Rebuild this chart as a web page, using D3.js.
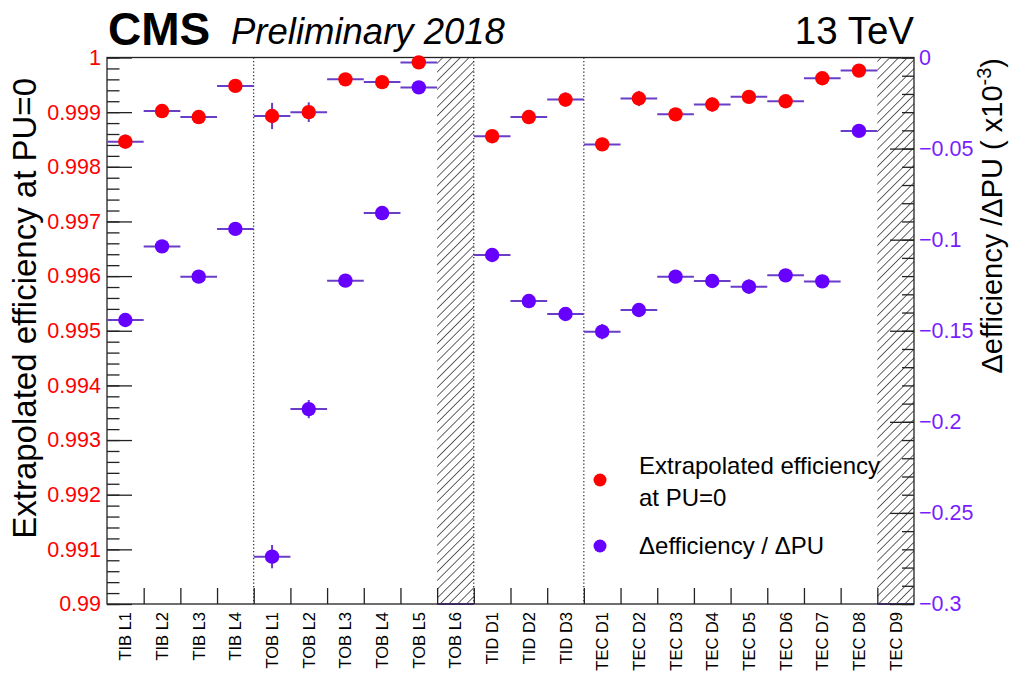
<!DOCTYPE html>
<html>
<head>
<meta charset="utf-8">
<script src="https://cdn.jsdelivr.net/npm/d3@7"></script>
<style>
  html, body { margin: 0; padding: 0; background: #fff; }
  svg { display: block; font-family: "Liberation Sans", Arial, Helvetica, sans-serif; }
</style>
</head>
<body>
<svg id="chart" width="1011" height="673"></svg>
<script>
// Tracker layers / disks
const categories = ["TIB L1","TIB L2","TIB L3","TIB L4",
  "TOB L1","TOB L2","TOB L3","TOB L4","TOB L5","TOB L6",
  "TID D1","TID D2","TID D3",
  "TEC D1","TEC D2","TEC D3","TEC D4","TEC D5","TEC D6","TEC D7","TEC D8","TEC D9"];

// Extrapolated hit efficiency at PU=0 (left axis)
const effPU0 = [0.99846, 0.99902, 0.99891, 0.99948,
  0.99893, 0.99900, 0.99960, 0.99955, 0.99991, null,
  0.99856, 0.99891, 0.99923,
  0.99841, 0.99925, 0.99896, 0.99914, 0.99928, 0.99920, 0.99962, 0.99976, null];
const effPU0Err = [0.00013, 0.00008, 0.00006, 0.00006,
  0.00024, 0.00018, 0.00008, 0.00006, 0.00006, null,
  0.00005, 0.00011, 0.00013,
  0.00012, 0.00014, 0.00006, 0.00013, 0.00006, 0.00006, 0.00006, 0.00006, null];

// Slope of efficiency vs pile-up, in units of 1e-3 (right axis)
const slope = [-0.1441, -0.1037, -0.1203, -0.0941,
  -0.2740, -0.1930, -0.1225, -0.0854, -0.0164, null,
  -0.1084, -0.1337, -0.1408,
  -0.1505, -0.1386, -0.1203, -0.1227, -0.1258, -0.1196, -0.1229, -0.0403, null];
const slopeErr = [0.003, 0.003, 0.003, 0.003,
  0.0064, 0.005, 0.003, 0.003, 0.003, null,
  0.003, 0.003, 0.003,
  0.0042, 0.003, 0.003, 0.003, 0.004, 0.003, 0.003, 0.003, null];

// Group boundaries (bin index) marked with dotted lines
const groupEdges = [4, 10, 13];

const leftTicks = [0.99, 0.991, 0.992, 0.993, 0.994, 0.995, 0.996, 0.997, 0.998, 0.999, 1];
const rightTicks = [-0.3, -0.25, -0.2, -0.15, -0.1, -0.05, 0];

const RED = "#ff0000", PURPLE = "#6600ff", BAR = "#6a3dc8", AXPURPLE = "#7a1cff";

const svg = d3.select("#chart");
const L = 107, R = 914, T = 57.5, B = 604;

const x = d3.scaleBand().domain(categories).range([L, R]).paddingInner(0).paddingOuter(0);
const xi = d3.scaleLinear().domain([0, categories.length]).range([L, R]);
const yL = d3.scaleLinear().domain([0.99, 1]).range([B, T]);
const yR = d3.scaleLinear().domain([-0.3, 0]).range([B, T]);

// hatch pattern for bins without measurement
const defs = svg.append("defs");
const pat = defs.append("pattern").attr("id", "hatch")
  .attr("patternUnits", "userSpaceOnUse").attr("width", 6.2).attr("height", 6.2)
  .attr("patternTransform", "rotate(45)");
pat.append("line").attr("x1", 0).attr("y1", 0).attr("x2", 0).attr("y2", 6.2)
  .attr("stroke", "#111").attr("stroke-width", 1.3);

const emptyBins = categories.filter((c, i) => effPU0[i] === null);
svg.append("g").selectAll("rect").data(emptyBins).join("rect")
  .attr("x", d => x(d)).attr("y", T).attr("width", x.bandwidth()).attr("height", B - T)
  .attr("fill", "url(#hatch)");
svg.append("g").selectAll("line").data(emptyBins).join("line")
  .attr("x1", d => x(d)).attr("x2", d => x(d) + x.bandwidth())
  .attr("y1", yR(-0.3)).attr("y2", yR(-0.3))
  .attr("stroke", BAR).attr("stroke-width", 2);

// dotted separators between sub-detectors
svg.append("g").selectAll("line").data(groupEdges).join("line")
  .attr("x1", d => xi(d)).attr("x2", d => xi(d)).attr("y1", T).attr("y2", B)
  .attr("stroke", "#000").attr("stroke-width", 1).attr("stroke-dasharray", "1.3,2.2");

// frame
svg.append("rect").attr("x", L).attr("y", T).attr("width", R - L).attr("height", B - T)
  .attr("fill", "none").attr("stroke", "#222").attr("stroke-width", 1.3);

// left axis (efficiency)
const minorL = d3.range(0, 51).map(i => 0.99 + i * 0.0002);
const gLm = svg.append("g").attr("transform", `translate(${L},0)`)
  .call(d3.axisLeft(yL).tickValues(minorL).tickSize(-12.5).tickFormat(""));
const gL = svg.append("g").attr("transform", `translate(${L},0)`)
  .call(d3.axisLeft(yL).tickValues(leftTicks).tickSize(-25).tickPadding(6)
    .tickFormat(d => d === 1 ? "1" : d3.format(".3~f")(d)));
[gLm, gL].forEach(g => { g.select(".domain").remove(); g.selectAll(".tick line").attr("stroke", "#222").attr("stroke-width", 1.3); });
gL.selectAll("text").attr("fill", RED).attr("font-size", 21.5).attr("font-family", "Liberation Sans, Arial, sans-serif");

// right axis (slope)
const minorR = d3.range(0, 31).map(i => -0.3 + i * 0.01);
const gRm = svg.append("g").attr("transform", `translate(${R},0)`)
  .call(d3.axisRight(yR).tickValues(minorR).tickSize(-12).tickFormat(""));
const gR = svg.append("g").attr("transform", `translate(${R},0)`)
  .call(d3.axisRight(yR).tickValues(rightTicks).tickSize(-24).tickPadding(5)
    .tickFormat(d => d === 0 ? "0" : d3.format(".2~f")(d)));
[gRm, gR].forEach(g => { g.select(".domain").remove(); g.selectAll(".tick line").attr("stroke", "#222").attr("stroke-width", 1.3); });
gR.selectAll("text").attr("fill", AXPURPLE).attr("font-size", 21.5).attr("font-family", "Liberation Sans, Arial, sans-serif");

// bottom axis: ticks on bin edges, labels at bin centres
const gB = svg.append("g").attr("transform", `translate(0,${B})`)
  .call(d3.axisBottom(xi).tickValues(d3.range(1, categories.length)).tickSize(-16).tickFormat(""));
gB.select(".domain").remove();
gB.selectAll(".tick line").attr("stroke", "#222").attr("stroke-width", 1.3);

svg.append("g").selectAll("text").data(categories).join("text")
  .attr("transform", d => `translate(${x(d) + x.bandwidth() / 2 + 6},${B + 8}) rotate(-90)`)
  .attr("text-anchor", "end").attr("font-size", 16.5).attr("fill", "#000")
  .text(d => d);

// series drawing: horizontal bin-width bar, vertical error bar, marker
function drawSeries(vals, errs, y, color) {
  const pts = categories.map((c, i) => ({ c, v: vals[i], e: errs[i] })).filter(d => d.v !== null);
  const g = svg.append("g");
  g.selectAll("line.h").data(pts).join("line").attr("class", "h")
    .attr("x1", d => x(d.c)).attr("x2", d => x(d.c) + x.bandwidth())
    .attr("y1", d => y(d.v)).attr("y2", d => y(d.v))
    .attr("stroke", BAR).attr("stroke-width", 2);
  g.selectAll("line.v").data(pts).join("line").attr("class", "v")
    .attr("x1", d => x(d.c) + x.bandwidth() / 2).attr("x2", d => x(d.c) + x.bandwidth() / 2)
    .attr("y1", d => y(d.v - d.e)).attr("y2", d => y(d.v + d.e))
    .attr("stroke", BAR).attr("stroke-width", 2);
  g.selectAll("circle").data(pts).join("circle")
    .attr("cx", d => x(d.c) + x.bandwidth() / 2).attr("cy", d => y(d.v)).attr("r", 7.2)
    .attr("fill", color);
}
drawSeries(slope, slopeErr, yR, PURPLE);
drawSeries(effPU0, effPU0Err, yL, RED);

// axis titles
svg.append("text").attr("transform", `translate(36,78) rotate(-90)`)
  .attr("text-anchor", "end").attr("font-size", 33).attr("fill", "#000")
  .text("Extrapolated efficiency at PU=0");

const rt = svg.append("text").attr("transform", `translate(1002,58) rotate(-90)`)
  .attr("text-anchor", "end").attr("font-size", 29).attr("fill", "#000");
rt.append("tspan").text("\u0394efficiency /\u0394PU ( x10");
rt.append("tspan").attr("dy", -11).attr("font-size", 20).text("-3");
rt.append("tspan").attr("dy", 11).text(")");

// header
svg.append("text").attr("x", 108).attr("y", 45).attr("font-size", 46).attr("font-weight", "bold")
  .attr("fill", "#000").text("CMS");
svg.append("text").attr("x", 231).attr("y", 44).attr("font-size", 36.5).attr("font-style", "italic")
  .attr("fill", "#000").text("Preliminary 2018");
svg.append("text").attr("x", R).attr("y", 44).attr("font-size", 38.5).attr("text-anchor", "end")
  .attr("fill", "#000").text("13 TeV");

// legend
const leg = svg.append("g").attr("font-size", 24).attr("fill", "#000");
leg.append("circle").attr("cx", 600).attr("cy", 480).attr("r", 6.5).attr("fill", RED);
leg.append("text").attr("x", 639).attr("y", 474).text("Extrapolated efficiency");
leg.append("text").attr("x", 639).attr("y", 506).text("at PU=0");
leg.append("circle").attr("cx", 600).attr("cy", 546).attr("r", 6.5).attr("fill", PURPLE);
leg.append("text").attr("x", 639).attr("y", 554).text("\u0394efficiency / \u0394PU");
</script>
</body>
</html>
